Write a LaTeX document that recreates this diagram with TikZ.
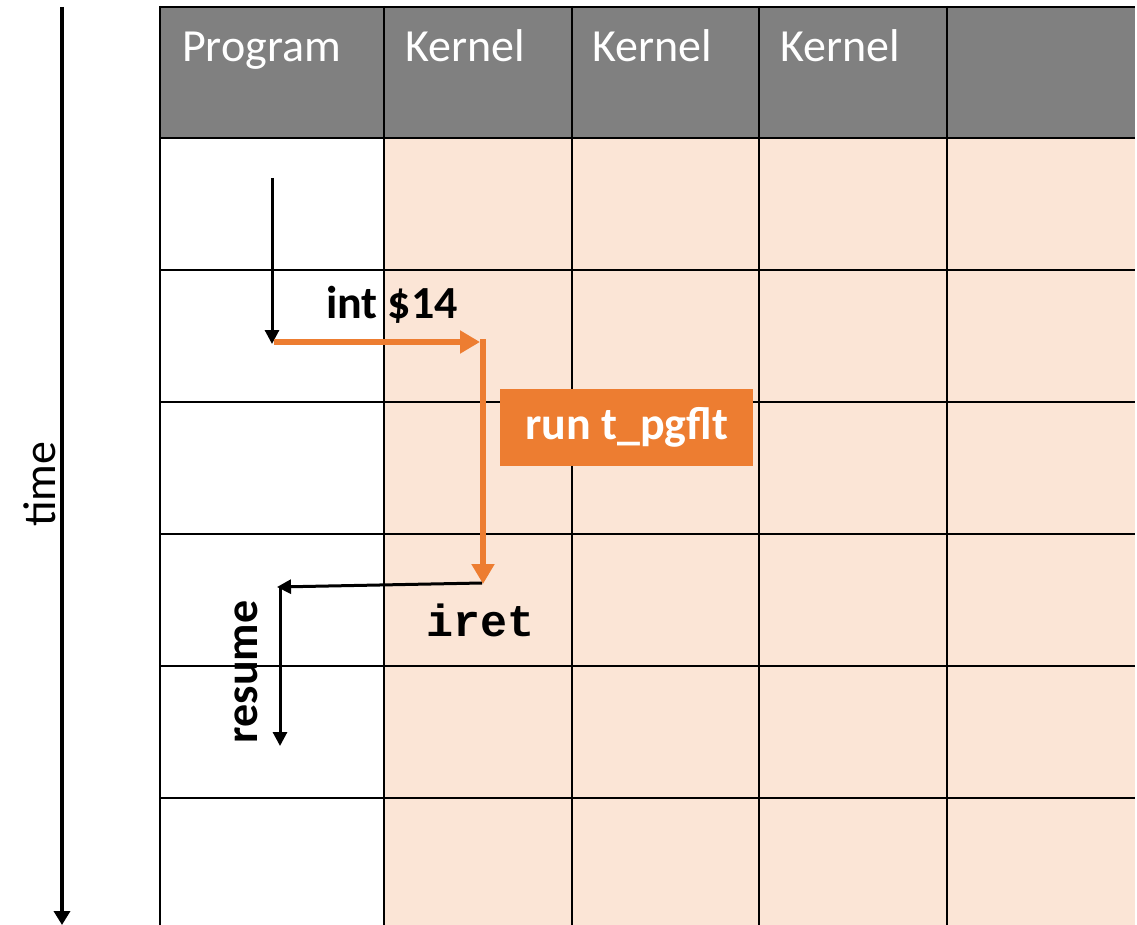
\documentclass[tikz,border=0pt]{standalone}
\usepackage{fontspec}
\setmainfont{Carlito}
\newfontfamily\codefont{Liberation Mono}
\usetikzlibrary{arrows.meta}
\definecolor{hdrgray}{RGB}{128,128,128}
\definecolor{peach}{RGB}{251,229,214}
\definecolor{accent}{RGB}{237,125,49}
\tikzset{
  gridline/.style={line width=2.6pt, black},
  hdrtext/.style={anchor=base west, inner sep=0pt, text=white},
  flow/.style={line width=3pt, black, -{Triangle[length=14pt,width=14pt]}},
  hot/.style={line width=6pt, accent, -{Triangle[length=20pt,width=22pt]}},
  lbl/.style={inner sep=0pt, font=\fontsize{46}{50}\selectfont\bfseries},
}
\begin{document}
\begin{tikzpicture}[x=1pt,y=-1pt,font=\fontsize{46}{50}\selectfont]
\useasboundingbox (0,0) rectangle (1137,925);
\fill[white] (0,0) rectangle (1137,925);
% table backgrounds
\fill[hdrgray] (160,7) rectangle (1135,138);
\fill[peach] (384,138) rectangle (1135,925);
% table rules
\foreach \x in {160,384,572,759,947} \draw[gridline] (\x,6) -- (\x,925);
\foreach \y in {7,138,270,402,534,666,798} \draw[gridline] (159,\y) -- (1135,\y);
% column headings
\node[hdrtext] (hprog) at (182,62) {Program};
\node[hdrtext] (hk1) at (405,62) {Kernel};
\node[hdrtext] (hk2) at (592,62) {Kernel};
\node[hdrtext] (hk3) at (780,62) {Kernel};
% time axis
\coordinate (t0) at (62,7);
\coordinate (t1) at (62,925);
\draw[line width=4pt, -{Triangle[length=14pt,width=16pt]}] (t0) -- (t1);
\node[rotate=90, inner sep=0pt] (time) at (40,484) {time};
% program runs until the trap
\coordinate (p0) at (272,178);
\coordinate (p1) at (272,344);
\draw[flow] (p0) -- (p1);
% trap into the kernel
\coordinate (trapA) at (274,342);
\coordinate (trapB) at (480,342);
\draw[hot, shorten <=0pt] (trapA) -- (trapB);
\node[lbl, anchor=base] (int) at (392,318) {int \$14};
% handler execution
\coordinate (h0) at (483,339);
\coordinate (h1) at (483,584);
\draw[hot] (h0) -- (h1);
\node[fill=accent, text=white, minimum width=253pt, minimum height=77pt, inner sep=0pt,
      font=\fontsize{46}{50}\selectfont\bfseries] (run) at (626.5,427.5) {run t\_pgflt};
% return from interrupt
\coordinate (r0) at (482,583);
\coordinate (r1) at (277,587);
\draw[flow] (r0) -- (r1);
\node[inner sep=0pt, anchor=base, font=\fontsize{45}{50}\codefont\bfseries] (iret) at (481,636) {iret};
% program resumes
\coordinate (s0) at (280,586);
\coordinate (s1) at (280,746);
\draw[flow] (s0) -- (s1);
\node[lbl, rotate=90] (resume) at (246,672) {resume};
\end{tikzpicture}
\end{document}
